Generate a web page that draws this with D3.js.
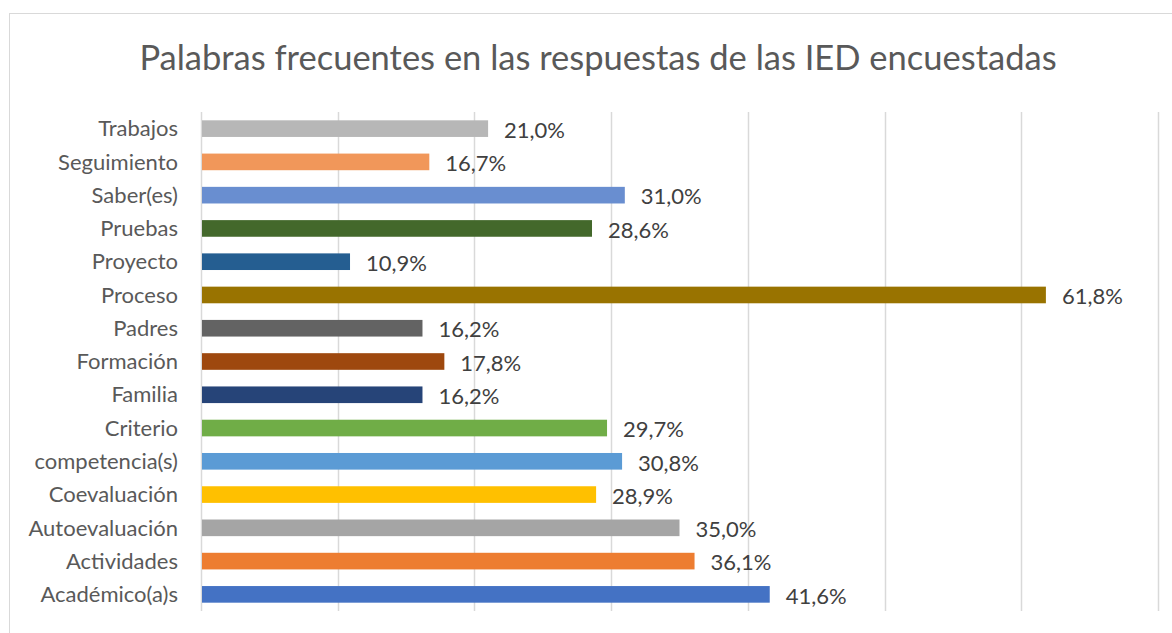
<!DOCTYPE html>
<html>
<head>
<meta charset="utf-8">
<script src="https://cdn.jsdelivr.net/npm/d3@7"></script>
<style>
  body { margin: 0; background: white; }
  svg { display: block; }
</style>
</head>
<body>
<script>
// datos (orden de Excel: de abajo hacia arriba)
const palabras = [
    "Académico(a)s", "Actividades", "Autoevaluación", "Coevaluación",
    "competencia(s)", "Criterio", "Familia", "Formación", "Padres",
    "Proceso", "Proyecto", "Pruebas", "Saber(es)", "Seguimiento", "Trabajos"
]
const porcentajes = [41.6, 36.1, 35.0, 28.9, 30.8, 29.7, 16.2, 17.8, 16.2, 61.8, 10.9, 28.6, 31.0, 16.7, 21.0]
const colores = [
    "#4472C4", "#ED7D31", "#A5A5A5", "#FFC000", "#5B9BD5", "#70AD47",
    "#264478", "#9E480E", "#636363", "#997300", "#255E91", "#43682B",
    "#698ED0", "#F1975A", "#B7B7B7"
]
const ticks = [0, 10, 20, 30, 40, 50, 60, 70]
const titulo = "Palabras frecuentes en las respuestas de las IED encuestadas"

const W = 1172, H = 633
const font = "Lato, 'Noto Sans', sans-serif"

const svg = d3.select("body").append("svg")
    .attr("width", W)
    .attr("height", H)

svg.append("rect")
    .attr("x", 9.5).attr("y", 13.5)
    .attr("width", W).attr("height", H)
    .attr("fill", "white")
    .attr("stroke", "#d9d9d9")

const x = d3.scaleLinear().domain([0, 70]).range([201, 1158])
const y = d3.scaleBand()
    .domain(palabras.slice().reverse())
    .range([112, 611])
    .paddingInner(0.5)
    .paddingOuter(0.25)

// lineas de cuadricula
svg.append("g")
    .selectAll("line")
    .data(ticks)
    .join("line")
        .attr("x1", d => Math.round(x(d)) + 0.5)
        .attr("x2", d => Math.round(x(d)) + 0.5)
        .attr("y1", 112)
        .attr("y2", 611)
        .attr("stroke", "#d9d9d9")
        .attr("stroke-width", 1.5)

const datos = palabras.map((p, i) => ({p: p, v: porcentajes[i], c: colores[i]}))

svg.append("g")
    .selectAll("rect")
    .data(datos)
    .join("rect")
        .attr("x", x(0) + 1)
        .attr("y", d => y(d.p))
        .attr("width", d => x(d.v) - x(0) - 1)
        .attr("height", y.bandwidth())
        .attr("fill", d => d.c)

// etiquetas de valor
svg.append("g")
    .attr("font-family", font)
    .attr("font-size", 22)
    .attr("fill", "#404040")
    .selectAll("text")
    .data(datos)
    .join("text")
        .attr("x", d => x(d.v) + 16)
        .attr("y", d => y(d.p) + y.bandwidth() / 2 + 1.5)
        .attr("dy", "0.35em")
        .text(d => d.v.toFixed(1).replace(".", ",") + "%")

// eje de categorias
svg.append("g")
    .attr("font-family", font)
    .attr("font-size", 22)
    .attr("fill", "#595959")
    .attr("text-anchor", "end")
    .selectAll("text")
    .data(palabras)
    .join("text")
        .attr("x", 178)
        .attr("y", d => y(d) + y.bandwidth() / 2)
        .attr("dy", "0.35em")
        .text(d => d)

svg.append("text")
    .attr("x", 598)
    .attr("y", 70)
    .attr("text-anchor", "middle")
    .attr("font-family", font)
    .attr("font-size", 34.5)
    .attr("fill", "#595959")
    .text(titulo)
</script>
</body>
</html>
